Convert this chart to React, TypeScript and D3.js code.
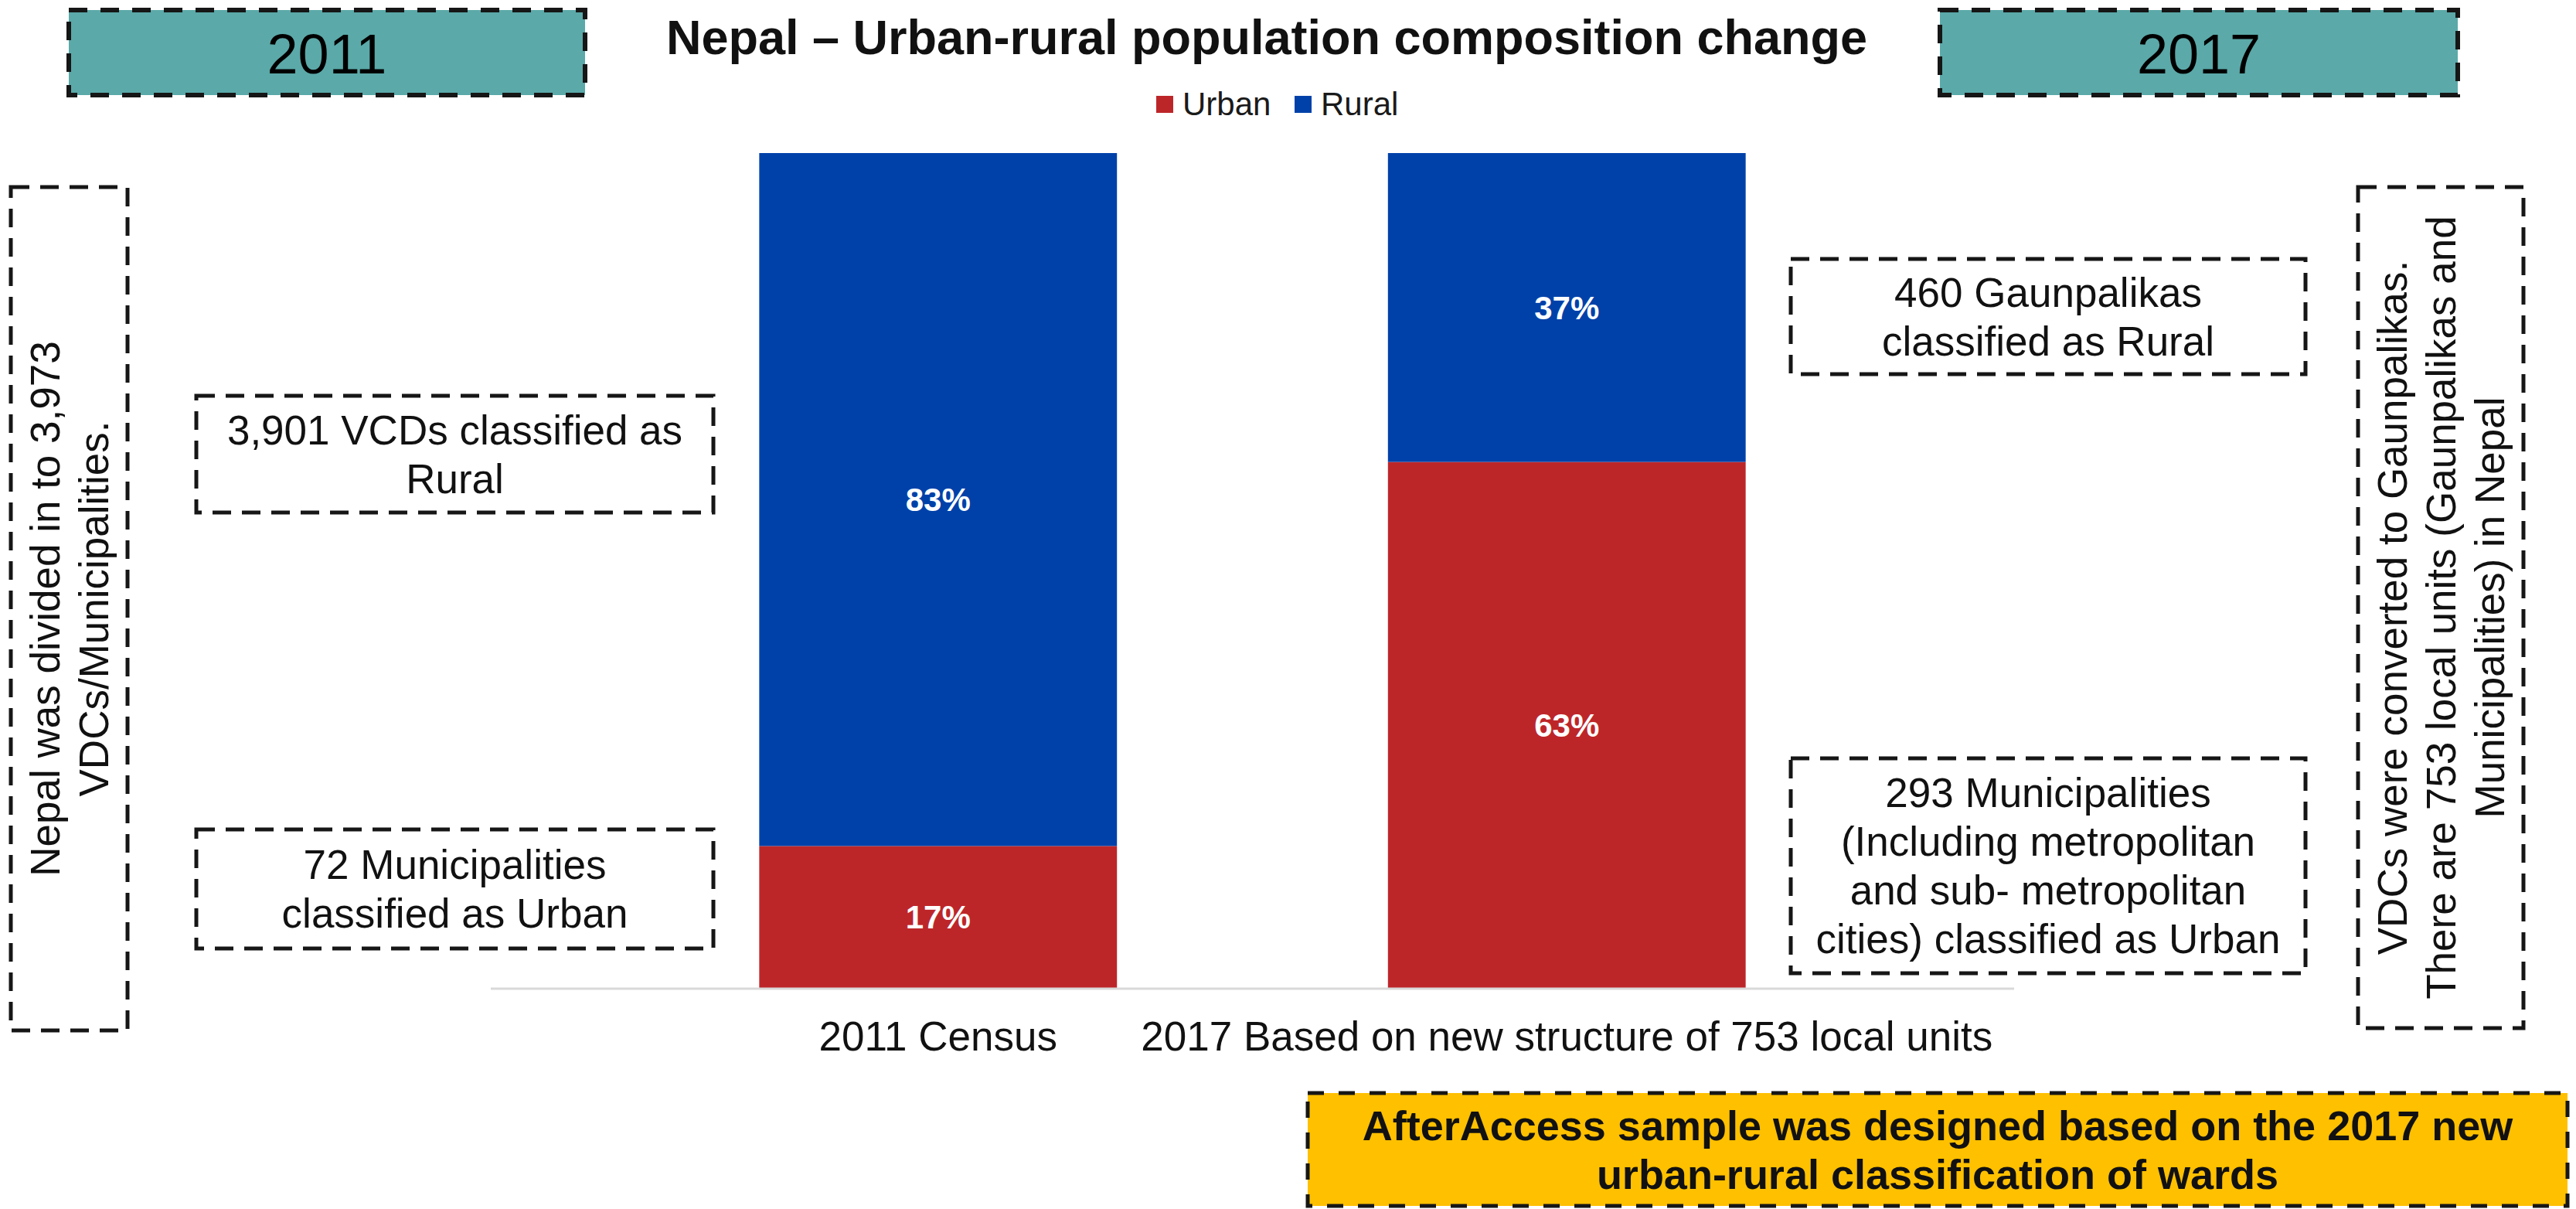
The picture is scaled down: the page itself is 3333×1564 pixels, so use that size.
import React from "react";
import * as d3 from "d3";

const categories = ["2011 Census", "2017 Based on new structure of 753 local units"];
const seriesNames = ["Urban", "Rural"];
const urbanValues = [17, 63];
const ruralValues = [83, 37];
const seriesColors = ["#BD2629", "#0041A9"];

const titleText = "Nepal \u2013 Urban-rural population composition change";
const yearLabels = ["2011", "2017"];
const leftVertical = ["Nepal was divided in to 3,973", "VDCs/Municipalities."];
const rightVertical = [
  "VDCs were converted to Gaunpalikas.",
  "There are 753 local units (Gaunpalikas and",
  "Municipalities) in Nepal",
];
const ruralNote2011 = ["3,901 VCDs classified as", "Rural"];
const urbanNote2011 = ["72 Municipalities", "classified as Urban"];
const ruralNote2017 = ["460 Gaunpalikas", "classified as Rural"];
const urbanNote2017 = [
  "293 Municipalities",
  "(Including metropolitan",
  "and sub- metropolitan",
  "cities) classified as Urban",
];
const footerNote = [
  "AfterAccess sample was designed based on the 2017 new",
  "urban-rural classification of wards",
];

const W = 3333;
const H = 1564;
const FONT = "'Liberation Sans', Arial, Helvetica, sans-serif";

type BoxProps = {
  x: number; y: number; w: number; h: number; lines: string[];
  fill?: string; fontSize?: number; bold?: boolean; dash?: string; sw?: number;
  rotate?: boolean; lh?: number;
};

function NoteBox({ x, y, w, h, lines, fill = "none", fontSize = 53, bold = false, dash = "24 14", sw = 5, rotate = false, lh = 63 }: BoxProps) {
  const cx = x + w / 2;
  const cy = y + h / 2;
  const n = lines.length;
  const cap = fontSize * 0.716;
  return (
    <g>
      <rect x={x} y={y} width={w} height={h} fill={fill} stroke="#161616" strokeWidth={sw} strokeDasharray={dash} />
      {rotate ? (
        <g transform={`translate(${cx},${cy}) rotate(-90)`}>
          {lines.map((t, i) => (
            <text key={i} x={0} y={-(n - 1) * lh / 2 + i * lh + cap / 2} textAnchor="middle"
              fontFamily={FONT} fontSize={fontSize} fontWeight={bold ? 700 : 400} fill="#111">{t}</text>
          ))}
        </g>
      ) : (
        lines.map((t, i) => (
          <text key={i} x={cx} y={cy - (n - 1) * lh / 2 + i * lh + cap / 2} textAnchor="middle"
            fontFamily={FONT} fontSize={fontSize} fontWeight={bold ? 700 : 400} fill="#111">{t}</text>
        ))
      )}
    </g>
  );
}

export default function App() {
  const x = d3.scaleBand<string>().domain(categories).range([635, 2606]).paddingInner(0.431).paddingOuter(0.427);
  const y = d3.scaleLinear().domain([0, 100]).range([1278, 198]);
  const rows = categories.map((c, i) => ({ cat: c, Urban: urbanValues[i], Rural: ruralValues[i] }));
  const stack = d3.stack<any>().keys(seriesNames)(rows);
  const color = d3.scaleOrdinal<string, string>().domain(seriesNames).range(seriesColors);

  const legendItems = [
    { name: "Urban", sx: 1496, tx: 1530 },
    { name: "Rural", sx: 1675, tx: 1709 },
  ];

  return (
    <svg width={W} height={H} viewBox={`0 0 ${W} ${H}`} style={{ position: "absolute", left: 0, top: 0, display: "block", background: "#fff" }}>
      <rect x={0} y={0} width={W} height={H} fill="#fff" />

      {/* year boxes */}
      <NoteBox x={89} y={13} w={668} h={110} lines={[]} fill="#5BA9A9" dash="24 17" sw={6} />
      <text x={423} y={95} textAnchor="middle" fontFamily={FONT} fontSize={72} fill="#000">{yearLabels[0]}</text>
      <NoteBox x={2510} y={13} w={670} h={110} lines={[]} fill="#5BA9A9" dash="24 17" sw={6} />
      <text x={2845} y={95} textAnchor="middle" fontFamily={FONT} fontSize={72} fill="#000">{yearLabels[1]}</text>

      {/* title */}
      <text x={1639} y={70} textAnchor="middle" fontFamily={FONT} fontSize={63} fontWeight={700} fill="#111">{titleText}</text>

      {/* legend */}
      {legendItems.map((d) => (
        <g key={d.name}>
          <rect x={d.sx} y={124} width={22} height={22} fill={color(d.name)} />
          <text x={d.tx} y={149} fontFamily={FONT} fontSize={42} fill="#1a1a1a">{d.name}</text>
        </g>
      ))}

      {/* bars */}
      {stack.map((s) => (
        <g key={s.key} fill={color(s.key)}>
          {s.map((d: any) => (
            <rect key={d.data.cat} x={x(d.data.cat)} y={y(d[1])} width={x.bandwidth()} height={y(d[0]) - y(d[1])} />
          ))}
        </g>
      ))}
      {stack.map((s) =>
        s.map((d: any) => (
          <text key={s.key + d.data.cat} x={(x(d.data.cat) as number) + x.bandwidth() / 2} y={(y(d[0]) + y(d[1])) / 2 + 15}
            textAnchor="middle" fontFamily={FONT} fontSize={42} fontWeight={700} fill="#fff">
            {`${d[1] - d[0]}%`}
          </text>
        ))
      )}

      {/* axis */}
      <line x1={635} x2={2606} y1={1279} y2={1279} stroke="#d9d9d9" strokeWidth={3} />
      {categories.map((c) => (
        <text key={c} x={(x(c) as number) + x.bandwidth() / 2} y={1359} textAnchor="middle" fontFamily={FONT} fontSize={53} fill="#111">{c}</text>
      ))}

      {/* annotations */}
      <NoteBox x={14} y={242} w={151} h={1091} lines={leftVertical} rotate />
      <NoteBox x={254} y={512} w={669} h={151} lines={ruralNote2011} />
      <NoteBox x={254} y={1073} w={669} h={154} lines={urbanNote2011} />
      <NoteBox x={2317} y={335} w={666} h={149} lines={ruralNote2017} />
      <NoteBox x={2317} y={981} w={666} h={278} lines={urbanNote2017} />
      <NoteBox x={3051} y={242} w={214} h={1088} lines={rightVertical} rotate />

      {/* footer */}
      <NoteBox x={1692} y={1414} w={1630} h={146} lines={footerNote} fill="#FFC000" bold fontSize={54} dash="21 19" sw={5} />
    </svg>
  );
}
